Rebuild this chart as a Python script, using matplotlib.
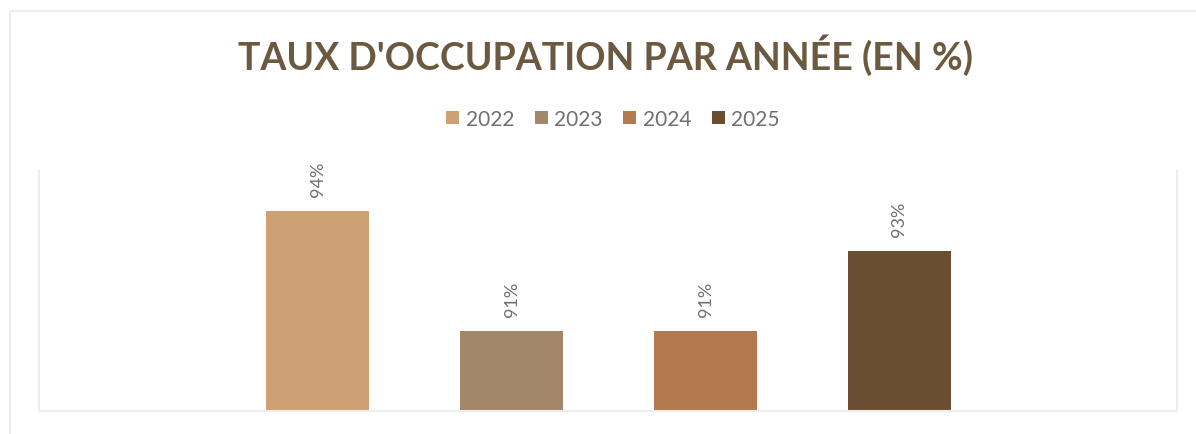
import matplotlib
matplotlib.use("Agg")
import matplotlib.pyplot as plt
from matplotlib.lines import Line2D

years = ["2022", "2023", "2024", "2025"]
values = [94, 91, 91, 93]
colors = ["#CDA173", "#A38769", "#B27A4E", "#6B4D31"]
title = "TAUX D'OCCUPATION PAR ANNÉE (EN %)"

W, H = 1196, 435
fig = plt.figure(figsize=(W / 100, H / 100), dpi=100)
fig.patch.set_facecolor("white")

# outer chart border (left + top visible)
fig.add_artist(Line2D([9.5 / W, 9.5 / W], [0, 1 - 11.5 / H], transform=fig.transFigure,
                      color="#EDEDED", lw=1.5))
fig.add_artist(Line2D([9.5 / W, 1195 / W], [1 - 11.5 / H, 1 - 11.5 / H], transform=fig.transFigure,
                      color="#EDEDED", lw=1.5))

ax = fig.add_axes([38.5 / W, 23 / H, (1177 - 38.5) / W, 240 / H])
xs = list(range(len(years)))
bars = []
for x, v, c, y in zip(xs, values, colors, years):
    b = ax.bar(x, v, width=0.53, color=c, label=y, zorder=2)
    bars.append(b)
    ax.annotate(f"{v}%", xy=(x, v), xytext=(0, 11), textcoords="offset points",
                rotation=90, ha="center", va="bottom", fontsize=13,
                color="#6F6F6F", family="Lato")

ax.set_ylim(89, 95)
ax.set_xlim(-1.44, -1.44 + 1139 / 194)
ax.set_xticks([])
ax.set_yticks([])
ax.spines["top"].set_visible(False)
for s in ["left", "right", "bottom"]:
    ax.spines[s].set_color("#EDEDED")
    ax.spines[s].set_linewidth(1.5)

fig.text(606 / W, 1 - 55 / H, title, ha="center", va="center", fontsize=27,
         fontweight="bold", color="#6B5940", family="Lato")

leg = fig.legend(handles=[b for b in bars], labels=years, loc="center",
                 bbox_to_anchor=(613 / W, 1 - 120 / H), ncol=4, frameon=False,
                 fontsize=15, handlelength=0.62, handleheight=0.62,
                 handletextpad=0.3, columnspacing=1.0, borderpad=0)
for t in leg.get_texts():
    t.set_color("#6F6F6F")
    t.set_family("Lato")

fig.savefig("out.png", dpi=100, facecolor="white")
